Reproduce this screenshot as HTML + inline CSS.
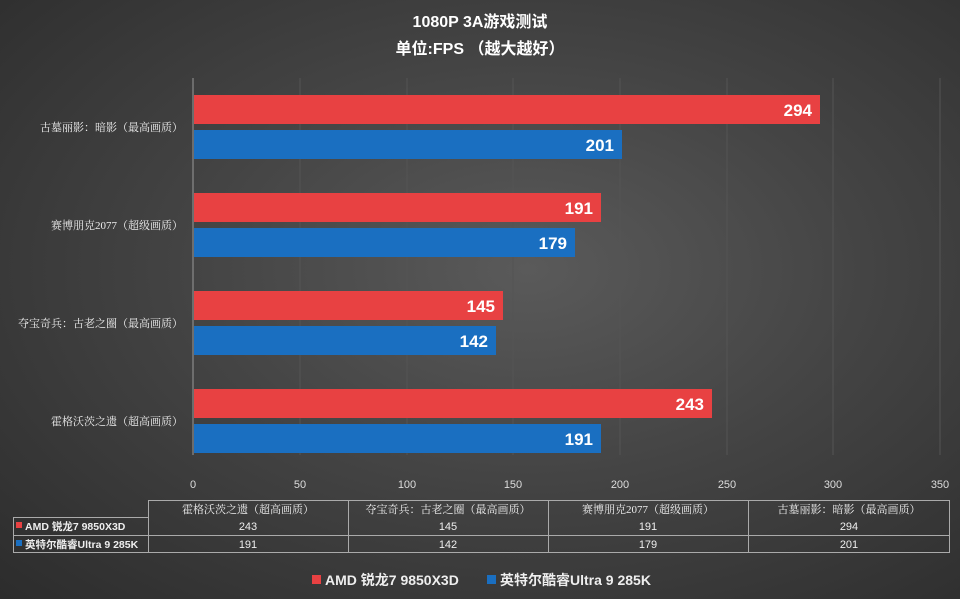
<!DOCTYPE html>
<html><head><meta charset="utf-8"><style>
body{margin:0;width:960px;height:599px;overflow:hidden;background:radial-gradient(ellipse at 55% 45%,#5a5a5a 0%,#444 45%,#2c2c2c 100%);font-family:"Liberation Sans","Noto Sans CJK SC",sans-serif;}
svg{position:absolute;left:0;top:0}
</style></head><body>
<svg width="960" height="599" xmlns="http://www.w3.org/2000/svg" font-family="Liberation Sans, Noto Sans CJK SC, sans-serif">
<text x="480" y="27" fill="#fff" font-size="16" font-weight="bold" text-anchor="middle">1080P 3A游戏测试</text>
<text x="480" y="54" fill="#fff" font-size="16" font-weight="bold" text-anchor="middle">单位:FPS （越大越好）</text>
<g stroke="#545454" stroke-width="1">
<line x1="300" y1="78" x2="300" y2="455"/><line x1="407" y1="78" x2="407" y2="455"/><line x1="513" y1="78" x2="513" y2="455"/><line x1="620" y1="78" x2="620" y2="455"/><line x1="727" y1="78" x2="727" y2="455"/><line x1="833" y1="78" x2="833" y2="455"/><line x1="940" y1="78" x2="940" y2="455"/>
</g>
<line x1="193" y1="78" x2="193" y2="455" stroke="#999"/>
<g font-size="11" fill="#ddd" text-anchor="middle">
<text x="193" y="488">0</text><text x="300" y="488">50</text><text x="407" y="488">100</text><text x="513" y="488">150</text><text x="620" y="488">200</text><text x="727" y="488">250</text><text x="833" y="488">300</text><text x="940" y="488">350</text>
</g>
<g font-size="11" fill="#eee" text-anchor="end" font-family="Liberation Serif, Noto Serif CJK SC, serif">
<text x="183" y="131">古墓丽影：暗影（最高画质）</text>
<text x="183" y="229">赛博朋克2077（超级画质）</text>
<text x="183" y="327">夺宝奇兵：古老之圈（最高画质）</text>
<text x="183" y="425">霍格沃茨之遗（超高画质）</text>
</g>
<g>
<rect x="194" y="95" width="626" height="29" fill="#e84142"/>
<rect x="194" y="130" width="428" height="29" fill="#1a6fc1"/>
<rect x="194" y="193" width="407" height="29" fill="#e84142"/>
<rect x="194" y="228" width="381" height="29" fill="#1a6fc1"/>
<rect x="194" y="291" width="309" height="29" fill="#e84142"/>
<rect x="194" y="326" width="302" height="29" fill="#1a6fc1"/>
<rect x="194" y="389" width="518" height="29" fill="#e84142"/>
<rect x="194" y="424" width="407" height="29" fill="#1a6fc1"/>
</g>
<g font-size="17" font-weight="bold" fill="#fff" text-anchor="end">
<text x="812" y="116">294</text><text x="614" y="151">201</text>
<text x="593" y="214">191</text><text x="567" y="249">179</text>
<text x="495" y="312">145</text><text x="488" y="347">142</text>
<text x="704" y="410">243</text><text x="593" y="445">191</text>
</g>
<g stroke="#aaa" fill="none" stroke-width="1">
<rect x="148.5" y="500.5" width="801" height="52"/>
<rect x="13.5" y="517.5" width="135" height="35"/>
<line x1="13" y1="535.5" x2="950" y2="535.5"/>
<line x1="348.5" y1="500" x2="348.5" y2="553"/><line x1="548.5" y1="500" x2="548.5" y2="553"/><line x1="748.5" y1="500" x2="748.5" y2="553"/>
</g>
<g font-size="11" fill="#eee" text-anchor="middle">
<g font-family="Liberation Serif, Noto Serif CJK SC, serif">
<text x="248" y="513">霍格沃茨之遗（超高画质）</text><text x="448" y="513">夺宝奇兵：古老之圈（最高画质）</text><text x="648" y="513">赛博朋克2077（超级画质）</text><text x="849" y="513">古墓丽影：暗影（最高画质）</text>
</g>
<text x="248" y="530">243</text><text x="448" y="530">145</text><text x="648" y="530">191</text><text x="849" y="530">294</text>
<text x="248" y="548">191</text><text x="448" y="548">142</text><text x="648" y="548">179</text><text x="849" y="548">201</text>
</g>
<rect x="16" y="522" width="6" height="6" fill="#e84142"/><rect x="16" y="540" width="6" height="6" fill="#1a6fc1"/>
<g font-size="10.5" font-weight="bold" fill="#eee">
<text x="25" y="530">AMD 锐龙7 9850X3D</text><text x="25" y="548">英特尔酷睿Ultra 9 285K</text>
</g>
<rect x="312" y="575" width="9" height="9" fill="#e84142"/>
<rect x="487" y="575" width="9" height="9" fill="#1a6fc1"/>
<g font-size="14" font-weight="bold" fill="#eee">
<text x="325" y="585">AMD 锐龙7 9850X3D</text><text x="500" y="585">英特尔酷睿Ultra 9 285K</text>
</g>
</svg>
</body></html>
